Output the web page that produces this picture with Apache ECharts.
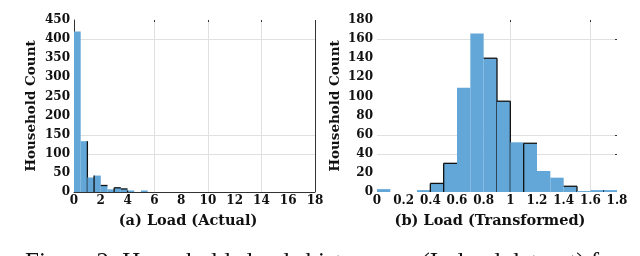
<!DOCTYPE html>
<html>
<head>
<meta charset="utf-8">
<script src="https://cdn.jsdelivr.net/npm/echarts@6/dist/echarts.min.js"></script>
<style>
html,body{margin:0;padding:0;background:#fff;}
#c{width:640px;height:256px;}
</style>
</head>
<body>
<div id="c"></div>
<script>
// ---- data ----
const leftEdges  = [0, 0.5, 1, 1.5, 2, 2.5, 3, 3.5, 4, 4.5, 5, 5.5];
const leftCounts = [420, 133, 38, 43, 17, 7, 11, 8, 4, 0, 4];
const rightEdges  = [0, 0.1, 0.2, 0.3, 0.4, 0.5, 0.6, 0.7, 0.8, 0.9, 1.0, 1.1, 1.2, 1.3, 1.4, 1.5, 1.6, 1.7, 1.8];
const rightCounts = [3, 0, 0, 2, 9, 30, 109, 166, 140, 95, 52, 51, 22, 15, 6, 1, 2, 2];
const leftXTicks  = [0, 2, 4, 6, 8, 10, 12, 14, 16, 18];
const leftYTicks  = [0, 50, 100, 150, 200, 250, 300, 350, 400, 450];
const rightXTicks = [0, 0.2, 0.4, 0.6, 0.8, 1, 1.2, 1.4, 1.6, 1.8];
const rightYTicks = [0, 20, 40, 60, 80, 100, 120, 140, 160, 180];
const leftTitle  = '(a) Load (Actual)';
const rightTitle = '(b) Load (Transformed)';
const yName = 'Household Count';
const caption = 'Figure 2: Households loads histograms (Ireland dataset) for a';

// ---- styling (edge outline artefacts, faint grid lines) ----
const leftOutline  = {1:'r', 3:'l', 4:'t', 6:'tl', 7:'t', 8:'l'};
const rightOutline = {4:'tl', 5:'tl', 8:'tr', 9:'tr', 11:'tl', 14:'tr', 16:'r'};
const leftGrid  = {x:[6, 10, 14], y:[400, 150, 100]};
const rightGrid = {x:[1, 1.6], y:[160, 60, 40]};

const BAR = '#62a7d8';
const SERIF = '"DejaVu Serif","Liberation Serif",serif';

function histData(edges, counts) {
  return counts.map((c, i) => [edges[i], edges[i + 1], c]);
}
function makeRender(outline) {
  return function (params, api) {
    const x0 = api.value(0), x1 = api.value(1), v = api.value(2);
    const p0 = api.coord([x0, 0]);
    const p1 = api.coord([x1, v]);
    const children = [];
    if (v > 0) {
      children.push({
        type: 'rect',
        shape: {x: p0[0], y: p1[1], width: p1[0] - p0[0], height: p0[1] - p1[1]},
        style: {fill: BAR}
      });
    }
    const o = outline[params.dataIndex] || '';
    const segs = [];
    if (o.indexOf('t') >= 0) segs.push([p0[0], p1[1], p1[0], p1[1]]);
    if (o.indexOf('l') >= 0) segs.push([p0[0], p1[1], p0[0], p0[1]]);
    if (o.indexOf('r') >= 0) segs.push([p1[0], p1[1], p1[0], p0[1]]);
    segs.forEach(s => children.push({
      type: 'line',
      shape: {x1: s[0], y1: s[1], x2: s[2], y2: s[3]},
      style: {stroke: '#111', lineWidth: 1.3}
    }));
    return {type: 'group', children: children};
  };
}
// faint partial grid lines, positioned through the axes
function gridSeries(idx, g, xTicks, yTicks, tickSide) {
  const data = g.x.map(v => [v, yTicks[0], 0]).concat(g.y.map(v => [xTicks[0], v, 1]));
  return {
    type: 'custom', xAxisIndex: idx, yAxisIndex: idx, z: 1, silent: true,
    data: data, encode: {x: 0, y: 1},
    renderItem: function (params, api) {
      const cs = params.coordSys;
      const p = api.coord([api.value(0), api.value(1)]);
      const vertical = api.value(2) === 0;
      const children = [];
      if (vertical) {
        const x = Math.round(p[0]) + 0.5;
        children.push({type: 'line', shape: {x1: x, y1: cs.y, x2: x, y2: cs.y + cs.height},
          style: {stroke: '#e0e0e0', lineWidth: 1}});
        children.push({type: 'line', shape: {x1: x, y1: cs.y, x2: x, y2: cs.y + 2},
          style: {stroke: '#333', lineWidth: 1}});
      } else {
        const y = Math.round(p[1]) + 0.5;
        children.push({type: 'line', shape: {x1: cs.x, y1: y, x2: cs.x + cs.width, y2: y},
          style: {stroke: '#e0e0e0', lineWidth: 1}});
        if (tickSide) {
          children.push({type: 'line', shape: {x1: cs.x + cs.width - 2, y1: y, x2: cs.x + cs.width, y2: y},
            style: {stroke: '#333', lineWidth: 1}});
        }
      }
      return {type: 'group', children: children};
    }
  };
}
function xAxisOf(ticks, idx, showLine) {
  return {
    type: 'value', gridIndex: idx,
    min: ticks[0], max: ticks[ticks.length - 1], interval: ticks[1] - ticks[0],
    axisLine: {show: showLine, onZero: false, lineStyle: {color: '#333', width: 1}},
    axisTick: {show: false},
    splitLine: {show: false},
    axisLabel: {
      margin: 3, color: '#111', fontFamily: SERIF, fontWeight: 'bold', fontSize: 12,
      formatter: v => String(+v.toFixed(2))
    }
  };
}
function yAxisOf(ticks, idx, showLine, gap) {
  return {
    type: 'value', gridIndex: idx,
    min: ticks[0], max: ticks[ticks.length - 1], interval: ticks[1] - ticks[0],
    name: yName, nameLocation: 'middle', nameGap: gap,
    nameTextStyle: {color: '#111', fontFamily: SERIF, fontWeight: 'bold', fontSize: 13.5},
    axisLine: {show: showLine, lineStyle: {color: '#333', width: 1}},
    axisTick: {show: false},
    splitLine: {show: false},
    axisLabel: {margin: 4, color: '#111', fontFamily: SERIF, fontWeight: 'bold', fontSize: 12}
  };
}

const chart = echarts.init(document.getElementById('c'), null, {renderer: 'canvas'});
chart.setOption({
  animation: false,
  backgroundColor: '#fff',
  grid: [
    {left: 74, right: 325, top: 20, bottom: 64, show: false},
    {left: 377, right: 23, top: 20, bottom: 64, show: false}
  ],
  xAxis: [xAxisOf(leftXTicks, 0, true), xAxisOf(rightXTicks, 1, false)],
  yAxis: [yAxisOf(leftYTicks, 0, true, 36), yAxisOf(rightYTicks, 1, false, 35)],
  series: [
    gridSeries(0, leftGrid, leftXTicks, leftYTicks, false),
    gridSeries(1, rightGrid, rightXTicks, rightYTicks, true),
    {
      type: 'custom', xAxisIndex: 0, yAxisIndex: 0, z: 20,
      renderItem: makeRender(leftOutline), data: histData(leftEdges, leftCounts),
      encode: {x: [0, 1], y: 2}
    },
    {
      type: 'custom', xAxisIndex: 1, yAxisIndex: 1, z: 20,
      renderItem: makeRender(rightOutline), data: histData(rightEdges, rightCounts),
      encode: {x: [0, 1], y: 2}
    }
  ],
  graphic: [
    {type: 'line', shape: {x1: 315.5, y1: 20, x2: 315.5, y2: 192}, style: {stroke: '#333', lineWidth: 1}, z: 25},
    {type: 'text', x: 188, y: 221, style: {text: leftTitle, font: 'bold 14.5px ' + SERIF, fill: '#111', align: 'center', verticalAlign: 'middle'}},
    {type: 'text', x: 490, y: 221, style: {text: rightTitle, font: 'bold 14.5px ' + SERIF, fill: '#111', align: 'center', verticalAlign: 'middle'}},
    {type: 'text', left: 25, top: 251, style: {text: caption, font: '25px "Liberation Serif",serif', fill: '#111'}}
  ]
});
</script>
</body>
</html>
